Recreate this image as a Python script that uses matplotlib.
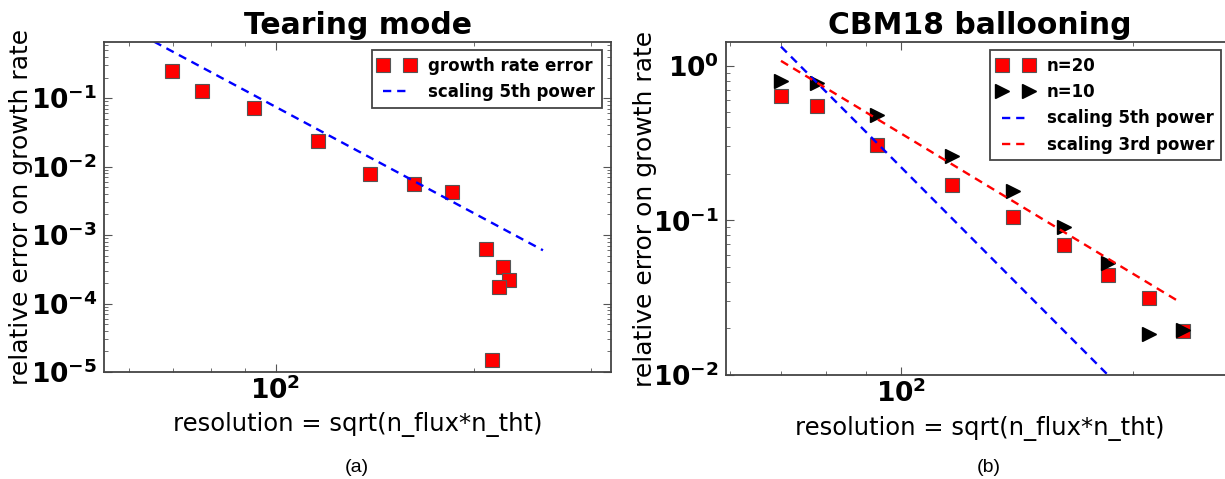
import matplotlib
matplotlib.use('Agg')
import matplotlib.pyplot as plt
from matplotlib.ticker import LogLocator, NullFormatter, FixedLocator, FixedFormatter

plt.rcParams['font.family'] = ['DejaVu Sans']
plt.rcParams['mathtext.fontset'] = 'dejavusans'

# ---- data: (a) tearing mode ----
tear_res = [69.7, 77.4, 92.9, 116, 139, 162, 185, 208, 221, 226, 218, 213]
tear_err = [0.245, 0.129, 0.0714, 0.0238, 0.00773, 0.00564, 0.00426,
            6.3e-4, 3.36e-4, 2.19e-4, 1.75e-4, 1.48e-5]
tear_fit_x = [60, 254]
tear_fit_y = [1.05, 6.0e-4]

# ---- data: (b) CBM18 ballooning ----
cbm_res = [70.0, 77.8, 93.2, 116.7, 139.8, 163, 185.8, 210, 232.8]
cbm_n20 = [0.640, 0.544, 0.305, 0.168, 0.1056, 0.069, 0.0444, 0.0315, 0.0192]
cbm_n10 = [0.80, 0.769, 0.478, 0.260, 0.155, 0.091, 0.0531, 0.0183, 0.0194]
cbm_fit5_x = [69.9, 185.4]
cbm_fit5_y = [1.326, 0.0101]
cbm_fit3_x = [69.9, 229.3]
cbm_fit3_y = [1.072, 0.030]

W, H = 1225, 479
fig = plt.figure(figsize=(W / 100, H / 100), dpi=100)

ax1 = fig.add_axes([104 / W, (H - 372) / H, 507 / W, 330 / H])
ax2 = fig.add_axes([726 / W, (H - 375) / H, 507 / W, 333 / H])

sq = dict(marker='s', ms=9.5, mfc='#ff0000', mec='#555555', mew=0.8, ls='none')
dash = (0, (3.5, 2.5))

ax1.plot(tear_res, tear_err, label='growth rate error', **sq)
ax1.plot(tear_fit_x, tear_fit_y, color='#0000ff', lw=1.7, ls=dash, label='scaling 5th power')

ax2.plot(cbm_res, cbm_n20, label='n=20', **sq)
ax2.plot(cbm_res, cbm_n10, marker='>', ms=9.5, mfc='k', mec='k', ls='none', label='n=10')
ax2.plot(cbm_fit5_x, cbm_fit5_y, color='#0000ff', lw=1.7, ls=dash, label='scaling 5th power')
ax2.plot(cbm_fit3_x, cbm_fit3_y, color='#ff0000', lw=1.7, ls=dash, label='scaling 3rd power')

ax1.set_xlim(55, 322)
ax1.set_ylim(1e-5, 0.66)
ax2.set_xlim(59.3, 270)
ax2.set_ylim(1e-2, 1.42)

tear_yticks = [1e-5, 1e-4, 1e-3, 1e-2, 1e-1]
tear_ylabels = [r'$\mathbf{10^{-5}}$', r'$\mathbf{10^{-4}}$', r'$\mathbf{10^{-3}}$',
                r'$\mathbf{10^{-2}}$', r'$\mathbf{10^{-1}}$']
cbm_yticks = [1e-2, 1e-1, 1e0]
cbm_ylabels = [r'$\mathbf{10^{-2}}$', r'$\mathbf{10^{-1}}$', r'$\mathbf{10^{0}}$']

for ax, yt, yl in [(ax1, tear_yticks, tear_ylabels), (ax2, cbm_yticks, cbm_ylabels)]:
    ax.set_xscale('log')
    ax.set_yscale('log')
    ax.xaxis.set_major_locator(FixedLocator([100]))
    ax.xaxis.set_major_formatter(FixedFormatter([r'$\mathbf{10^{2}}$']))
    ax.xaxis.set_minor_locator(LogLocator(subs=range(2, 10)))
    ax.xaxis.set_minor_formatter(NullFormatter())
    ax.yaxis.set_major_locator(FixedLocator(yt))
    ax.yaxis.set_major_formatter(FixedFormatter(yl))
    ax.yaxis.set_minor_locator(LogLocator(subs=range(2, 10)))
    ax.yaxis.set_minor_formatter(NullFormatter())
    ax.tick_params(which='both', direction='in', top=True, right=True, color='#555555')
    ax.tick_params(which='major', length=6, width=0.8, labelsize=19)
    ax.tick_params(axis='y', which='major', pad=5)
    ax.tick_params(axis='x', which='major', pad=3)
    ax.tick_params(which='minor', length=3, width=0.6)
    for s in ax.spines.values():
        s.set_color('#444444')
        s.set_linewidth(1.3)
    ax.set_xlabel('resolution = sqrt(n_flux*n_tht)', fontsize=17.5)
    ax.set_ylabel('relative error on growth rate', fontsize=18)

ax1.xaxis.set_label_coords(0.5, -0.121)
ax2.xaxis.set_label_coords(0.5, -0.123)
ax1.yaxis.set_label_coords(-0.14, 0.5)
ax2.yaxis.set_label_coords(-0.136, 0.5)

ax1.text(0.5, 1 + 17 / 330, 'Tearing mode', transform=ax1.transAxes,
         ha='center', va='center', fontsize=21.5, fontweight='bold')
ax2.text(0.5, 1 + 17 / 333, 'CBM18 ballooning', transform=ax2.transAxes,
         ha='center', va='center', fontsize=21.5, fontweight='bold')

leg_kw = dict(numpoints=2, prop={'weight': 'bold', 'size': 12}, fancybox=False,
              framealpha=1, edgecolor='#444444', borderaxespad=0,
              bbox_transform=fig.transFigure, loc='upper right',
              handlelength=2.2, labelspacing=0.5)
l1 = ax1.legend(bbox_to_anchor=(602 / W, 1 - 50 / H), **leg_kw)
l2 = ax2.legend(bbox_to_anchor=(1221 / W, 1 - 50 / H), **leg_kw)
for lg in (l1, l2):
    lg.get_frame().set_linewidth(1.3)

fig.text(357 / W, 1 - 467 / H, '(a)', ha='center', va='center', fontsize=14,
         family='Liberation Sans')
fig.text(989 / W, 1 - 467 / H, '(b)', ha='center', va='center', fontsize=14,
         family='Liberation Sans')

fig.savefig('out.png', dpi=100)
